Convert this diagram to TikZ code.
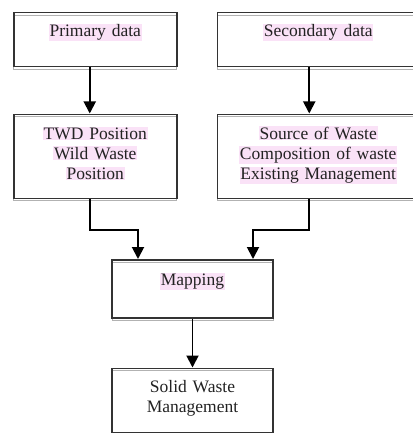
\documentclass[tikz,border=0pt]{standalone}
\usepackage{fontspec}
\setmainfont{Liberation Serif}
\usetikzlibrary{positioning,arrows.meta}
\definecolor{hlpink}{RGB}{250,226,247}
\definecolor{ink}{RGB}{34,34,34}
\newcommand{\hl}[1]{{\setlength{\fboxsep}{0.8pt}\colorbox{hlpink}{#1}}}
\begin{document}
\begin{tikzpicture}[
    box/.style={draw=black!80, line width=1.5pt, inner sep=0pt, align=center,
        text=ink, font=\fontsize{17.5}{20}\selectfont,
        preaction={draw=black!30, line width=0.8pt, transform canvas={yshift=-2.5pt}}},
    flow/.style={line width=1.9pt, -{Triangle[width=12pt,length=12pt]}}
    ]
    \useasboundingbox (0,0) rectangle (412pt,-433pt);

    \node[box, text width=163pt, text height=24pt, text depth=30pt, anchor=north west] (prim) at (13pt,-12pt) {\hl{Primary data}};
    \node[box, text width=202pt, text height=24pt, text depth=30pt, right=39pt of prim] (sec) {\hl{Secondary data}};
    \node[box, text width=163pt, text height=25pt, text depth=59pt, below=46pt of prim] (twd) {\hl{TWD Position}\\ \hl{Wild Waste}\\ \hl{Position}};
    \node[box, text width=202pt, text height=25pt, text depth=59pt, below=46pt of sec] (src) {\hl{Source of Waste}\\ \hl{Composition of waste}\\ \hl{Existing Management}};
    \node[box, text width=161pt, text height=26pt, text depth=32pt, anchor=north] (map) at (192.5pt,-259pt) {\hl{Mapping}};
    \node[box, text width=161pt, text height=24pt, text depth=40pt, below=49pt of map] (solid) {Solid Waste\\ Management};

    % connectors
    \draw[flow] ([xshift=-5.5pt]prim.south) -- ([xshift=-5.5pt]twd.north);
    \draw[flow] ([xshift=-9pt]sec.south) -- ([xshift=-9pt]src.north);
    \draw[flow] ([xshift=-5.5pt]twd.south) -- ++(0,-31pt) -| ([xshift=-54.5pt]map.north);
    \draw[flow] ([xshift=-9pt]src.south) -- ++(0,-31pt) -| ([xshift=60.5pt]map.north);
    \draw[flow] (map.south) -- (solid.north);
\end{tikzpicture}
\end{document}
